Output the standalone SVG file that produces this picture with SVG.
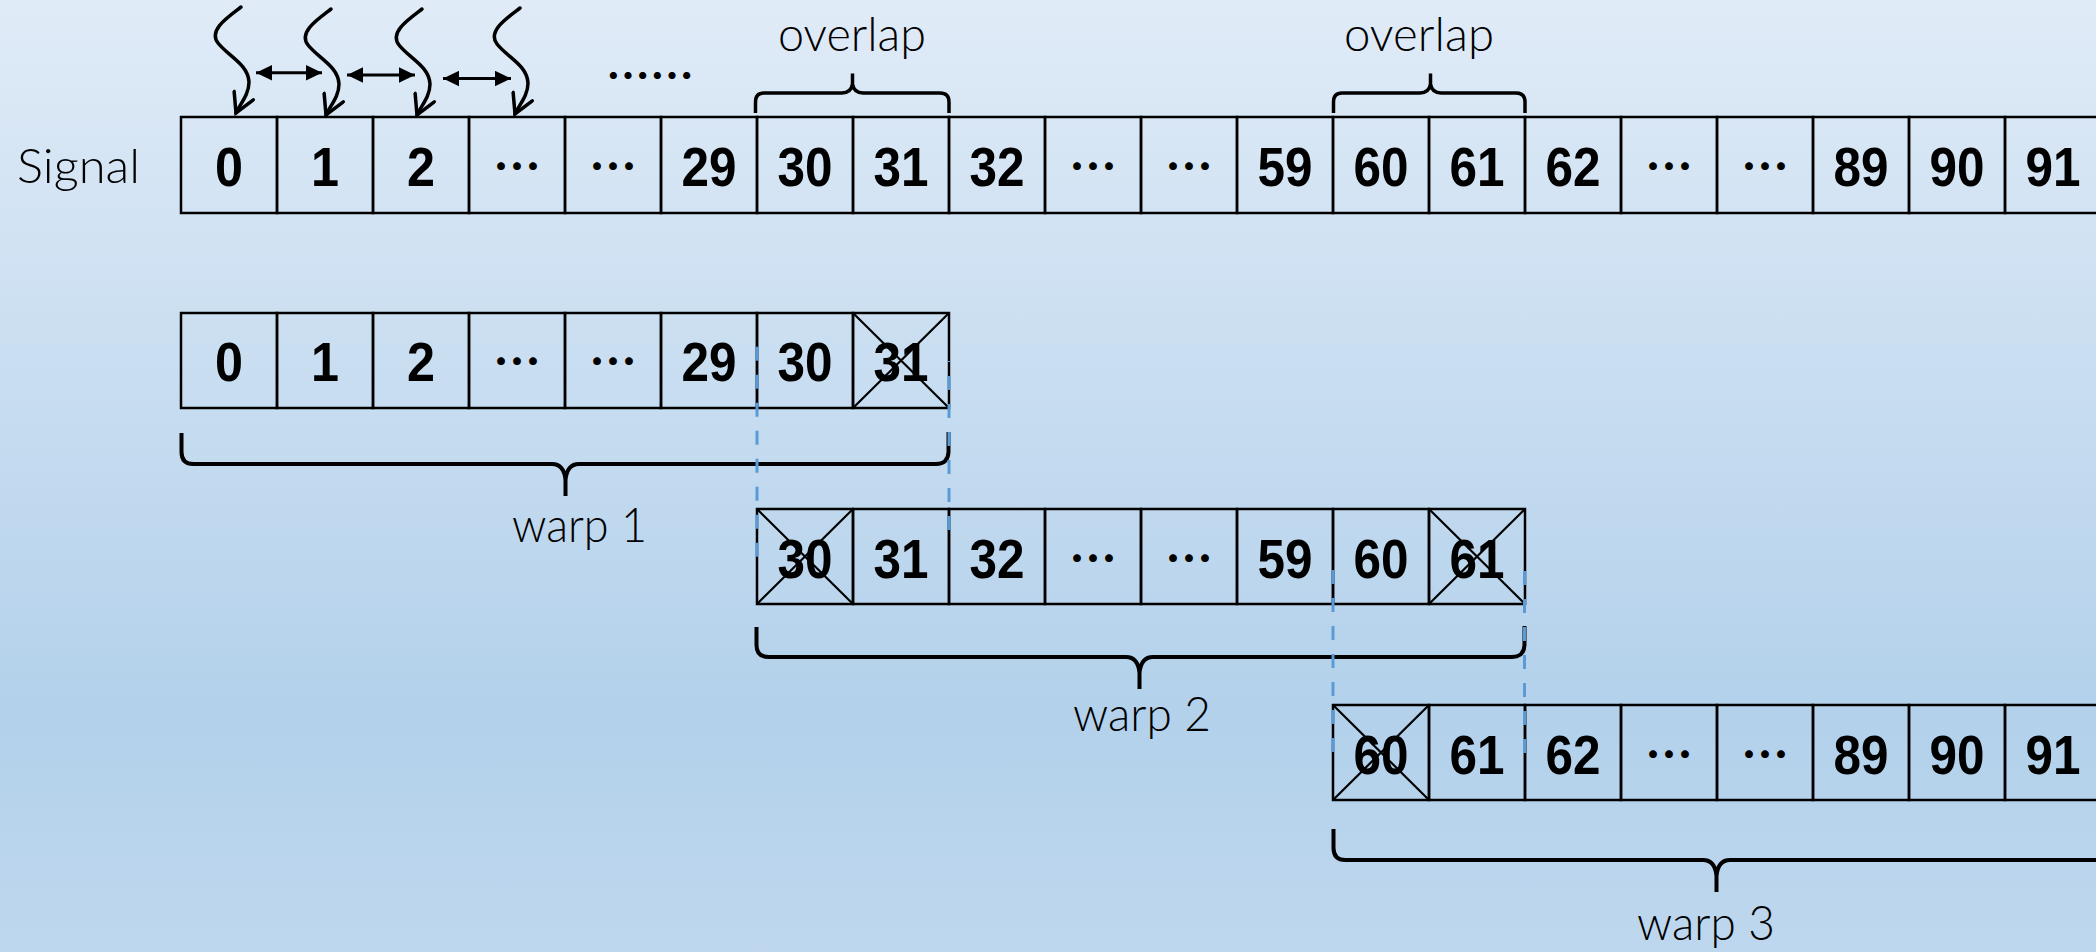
<svg xmlns="http://www.w3.org/2000/svg" width="2096" height="952" viewBox="0 0 2096 952">
  <defs>
    <linearGradient id="bg" x1="0" y1="0" x2="0" y2="1">
      <stop offset="0" stop-color="#e0ebf7"/>
      <stop offset="0.75" stop-color="#b3d1eb"/>
      <stop offset="1" stop-color="#bed7ee"/>
    </linearGradient>
    <marker id="openHead" markerUnits="userSpaceOnUse" viewBox="-22 -12 26 24" markerWidth="26" markerHeight="24" refX="0" refY="0" orient="auto">
      <path d="M-19,-10.5 L0,0 L-19,10.5" fill="none" stroke="#000" stroke-width="3.5" stroke-linejoin="miter" stroke-linecap="round"/>
    </marker>
    <marker id="solidHead" markerUnits="userSpaceOnUse" viewBox="-16 -8 17 16" markerWidth="17" markerHeight="16" refX="0" refY="0" orient="auto-start-reverse">
      <path d="M-16,-7.7 L0,0 L-16,7.7 Z" fill="#000"/>
    </marker>
    <path id="squiggle" d="M241,7 C228,17 208,30 218,43 C228,56 248,64 249,82 C249,95 240,104 236,113"/>
  </defs>
  <style>
    .cell { fill: none; stroke: #000; stroke-width: 2.5; }
    .cross { stroke: #000; stroke-width: 2.2; }
    .num { font-family: "Liberation Sans Narrow", "Liberation Sans", Arial, sans-serif; font-weight: bold; font-size: 56px; fill: #000; text-anchor: middle; }
    .dots { font-family: "Noto Sans CJK SC", "Noto Sans", sans-serif; font-weight: bold; font-size: 48px; fill: #000; text-anchor: middle; }
    .label { font-family: "Lato", "Noto Sans", sans-serif; font-weight: 300; font-size: 48px; fill: #000; }
    .brace { fill: none; stroke: #000; stroke-width: 4; stroke-linejoin: round; }
    .obrace { fill: none; stroke: #000; stroke-width: 3.5; stroke-linejoin: round; }
    .wave { fill: none; stroke: #000; stroke-width: 3.5; stroke-linecap: round; marker-end: url(#openHead); }
    .dbl { fill: none; stroke: #000; stroke-width: 3; marker-start: url(#solidHead); marker-end: url(#solidHead); }
    .dash { fill: none; stroke: #5b9bd5; stroke-width: 3; stroke-dasharray: 14 14; }
  </style>

  <rect x="0" y="0" width="2096" height="952" fill="url(#bg)"/>

  <!-- input signal samples -->
  <g id="signal">
    <text class="label" x="17" y="183" textLength="123" lengthAdjust="spacingAndGlyphs">Signal</text>
    <rect class="cell" x="181" y="117" width="96" height="96"/>
    <rect class="cell" x="277" y="117" width="96" height="96"/>
    <rect class="cell" x="373" y="117" width="96" height="96"/>
    <rect class="cell" x="469" y="117" width="96" height="96"/>
    <rect class="cell" x="565" y="117" width="96" height="96"/>
    <rect class="cell" x="661" y="117" width="96" height="96"/>
    <rect class="cell" x="757" y="117" width="96" height="96"/>
    <rect class="cell" x="853" y="117" width="96" height="96"/>
    <rect class="cell" x="949" y="117" width="96" height="96"/>
    <rect class="cell" x="1045" y="117" width="96" height="96"/>
    <rect class="cell" x="1141" y="117" width="96" height="96"/>
    <rect class="cell" x="1237" y="117" width="96" height="96"/>
    <rect class="cell" x="1333" y="117" width="96" height="96"/>
    <rect class="cell" x="1429" y="117" width="96" height="96"/>
    <rect class="cell" x="1525" y="117" width="96" height="96"/>
    <rect class="cell" x="1621" y="117" width="96" height="96"/>
    <rect class="cell" x="1717" y="117" width="96" height="96"/>
    <rect class="cell" x="1813" y="117" width="96" height="96"/>
    <rect class="cell" x="1909" y="117" width="96" height="96"/>
    <rect class="cell" x="2005" y="117" width="96" height="96"/>
    <text class="num" x="229" y="186" textLength="28" lengthAdjust="spacingAndGlyphs">0</text>
    <text class="num" x="325" y="186" textLength="28" lengthAdjust="spacingAndGlyphs">1</text>
    <text class="num" x="421" y="186" textLength="28" lengthAdjust="spacingAndGlyphs">2</text>
    <text class="dots" x="517" y="184">…</text>
    <text class="dots" x="613" y="184">…</text>
    <text class="num" x="709" y="186" textLength="55" lengthAdjust="spacingAndGlyphs">29</text>
    <text class="num" x="805" y="186" textLength="55" lengthAdjust="spacingAndGlyphs">30</text>
    <text class="num" x="901" y="186" textLength="55" lengthAdjust="spacingAndGlyphs">31</text>
    <text class="num" x="997" y="186" textLength="55" lengthAdjust="spacingAndGlyphs">32</text>
    <text class="dots" x="1093" y="184">…</text>
    <text class="dots" x="1189" y="184">…</text>
    <text class="num" x="1285" y="186" textLength="55" lengthAdjust="spacingAndGlyphs">59</text>
    <text class="num" x="1381" y="186" textLength="55" lengthAdjust="spacingAndGlyphs">60</text>
    <text class="num" x="1477" y="186" textLength="55" lengthAdjust="spacingAndGlyphs">61</text>
    <text class="num" x="1573" y="186" textLength="55" lengthAdjust="spacingAndGlyphs">62</text>
    <text class="dots" x="1669" y="184">…</text>
    <text class="dots" x="1765" y="184">…</text>
    <text class="num" x="1861" y="186" textLength="55" lengthAdjust="spacingAndGlyphs">89</text>
    <text class="num" x="1957" y="186" textLength="55" lengthAdjust="spacingAndGlyphs">90</text>
    <text class="num" x="2053" y="186" textLength="55" lengthAdjust="spacingAndGlyphs">91</text>
    <text class="dots" x="650" y="92" style="font-size:44px">……</text>
  </g>

  <!-- overlap markers above the signal -->
  <g id="overlap1">
    <path class="obrace" d="M755.5,113 V102 Q755.5,93 764,93 H842 Q851,93 852.5,84 V73.5 M852.5,84 Q854,93 863,93 H940 Q949,93 949,102 V113"/>
    <text class="label" x="778" y="51" textLength="148" lengthAdjust="spacingAndGlyphs">overlap</text>
  </g>
  <g id="overlap2">
    <path class="obrace" d="M1333.5,113 V102 Q1333.5,93 1342,93 H1420 Q1429,93 1430.5,84 V73.5 M1430.5,84 Q1432,93 1441,93 H1516 Q1525,93 1525,102 V113"/>
    <text class="label" x="1344" y="51" textLength="150" lengthAdjust="spacingAndGlyphs">overlap</text>
  </g>

  <!-- warp 1 -->
  <g id="warp1">
    <rect class="cell" x="181" y="313" width="96" height="95"/>
    <rect class="cell" x="277" y="313" width="96" height="95"/>
    <rect class="cell" x="373" y="313" width="96" height="95"/>
    <rect class="cell" x="469" y="313" width="96" height="95"/>
    <rect class="cell" x="565" y="313" width="96" height="95"/>
    <rect class="cell" x="661" y="313" width="96" height="95"/>
    <rect class="cell" x="757" y="313" width="96" height="95"/>
    <rect class="cell" x="853" y="313" width="96" height="95"/>
    <text class="num" x="229" y="381" textLength="28" lengthAdjust="spacingAndGlyphs">0</text>
    <text class="num" x="325" y="381" textLength="28" lengthAdjust="spacingAndGlyphs">1</text>
    <text class="num" x="421" y="381" textLength="28" lengthAdjust="spacingAndGlyphs">2</text>
    <text class="dots" x="517" y="379">…</text>
    <text class="dots" x="613" y="379">…</text>
    <text class="num" x="709" y="381" textLength="55" lengthAdjust="spacingAndGlyphs">29</text>
    <text class="num" x="805" y="381" textLength="55" lengthAdjust="spacingAndGlyphs">30</text>
    <text class="num" x="901" y="381" textLength="55" lengthAdjust="spacingAndGlyphs">31</text>
    <path class="cross" d="M853,313 L949,408 M949,313 L853,408"/>
    <path class="brace" d="M181.5,433 V452 Q181.5,464 193.5,464 H552 Q564,464 565.5,480 V496 M565.5,480 Q567,464 579,464 H936 Q948,464 948.5,452 V432"/>
    <text class="label" x="512" y="542" textLength="135" lengthAdjust="spacingAndGlyphs">warp 1</text>
  </g>

  <!-- warp 2 -->
  <g id="warp2">
    <rect class="cell" x="757" y="509" width="96" height="95"/>
    <rect class="cell" x="853" y="509" width="96" height="95"/>
    <rect class="cell" x="949" y="509" width="96" height="95"/>
    <rect class="cell" x="1045" y="509" width="96" height="95"/>
    <rect class="cell" x="1141" y="509" width="96" height="95"/>
    <rect class="cell" x="1237" y="509" width="96" height="95"/>
    <rect class="cell" x="1333" y="509" width="96" height="95"/>
    <rect class="cell" x="1429" y="509" width="96" height="95"/>
    <text class="num" x="805" y="578" textLength="55" lengthAdjust="spacingAndGlyphs">30</text>
    <text class="num" x="901" y="578" textLength="55" lengthAdjust="spacingAndGlyphs">31</text>
    <text class="num" x="997" y="578" textLength="55" lengthAdjust="spacingAndGlyphs">32</text>
    <text class="dots" x="1093" y="576">…</text>
    <text class="dots" x="1189" y="576">…</text>
    <text class="num" x="1285" y="578" textLength="55" lengthAdjust="spacingAndGlyphs">59</text>
    <text class="num" x="1381" y="578" textLength="55" lengthAdjust="spacingAndGlyphs">60</text>
    <text class="num" x="1477" y="578" textLength="55" lengthAdjust="spacingAndGlyphs">61</text>
    <path class="cross" d="M757,509 L853,604 M853,509 L757,604"/>
    <path class="cross" d="M1429,509 L1525,604 M1525,509 L1429,604"/>
    <path class="brace" d="M756.5,627 V645 Q756.5,657 768.5,657 H1126 Q1138,657 1139.5,673 V689 M1139.5,673 Q1141,657 1153,657 H1512 Q1524,657 1524.5,645 V626"/>
    <text class="label" x="1073" y="731" textLength="138" lengthAdjust="spacingAndGlyphs">warp 2</text>
  </g>

  <!-- warp 3 -->
  <g id="warp3">
    <rect class="cell" x="1333" y="705" width="96" height="95"/>
    <rect class="cell" x="1429" y="705" width="96" height="95"/>
    <rect class="cell" x="1525" y="705" width="96" height="95"/>
    <rect class="cell" x="1621" y="705" width="96" height="95"/>
    <rect class="cell" x="1717" y="705" width="96" height="95"/>
    <rect class="cell" x="1813" y="705" width="96" height="95"/>
    <rect class="cell" x="1909" y="705" width="96" height="95"/>
    <rect class="cell" x="2005" y="705" width="96" height="95"/>
    <text class="num" x="1381" y="774" textLength="55" lengthAdjust="spacingAndGlyphs">60</text>
    <text class="num" x="1477" y="774" textLength="55" lengthAdjust="spacingAndGlyphs">61</text>
    <text class="num" x="1573" y="774" textLength="55" lengthAdjust="spacingAndGlyphs">62</text>
    <text class="dots" x="1669" y="772">…</text>
    <text class="dots" x="1765" y="772">…</text>
    <text class="num" x="1861" y="774" textLength="55" lengthAdjust="spacingAndGlyphs">89</text>
    <text class="num" x="1957" y="774" textLength="55" lengthAdjust="spacingAndGlyphs">90</text>
    <text class="num" x="2053" y="774" textLength="55" lengthAdjust="spacingAndGlyphs">91</text>
    <path class="cross" d="M1333,705 L1429,800 M1429,705 L1333,800"/>
    <path class="brace" d="M1333.5,829 V848 Q1333.5,860 1345.5,860 H1703 Q1715,860 1716.5,876 V892 M1716.5,876 Q1718,860 1730,860 H2110"/>
    <text class="label" x="1637" y="940" textLength="138" lengthAdjust="spacingAndGlyphs">warp 3</text>
  </g>

  <!-- thread arrows, spacing arrows and overlap guides -->
  <g id="connectors">
    <use href="#squiggle" class="wave"/>
    <use href="#squiggle" class="wave" transform="translate(90,2)"/>
    <use href="#squiggle" class="wave" transform="translate(181,2)"/>
    <use href="#squiggle" class="wave" transform="translate(279,1)"/>
    <path class="dbl" d="M256,72.7 H322"/>
    <path class="dbl" d="M347,75 H415"/>
    <path class="dbl" d="M443,78.5 H511"/>
    <path class="dash" d="M757,346.7 V557"/>
    <path class="dash" d="M949,530 V361"/>
    <path class="dash" d="M1333,570 V753"/>
    <path class="dash" d="M1524.5,753 V557"/>
  </g>
</svg>
